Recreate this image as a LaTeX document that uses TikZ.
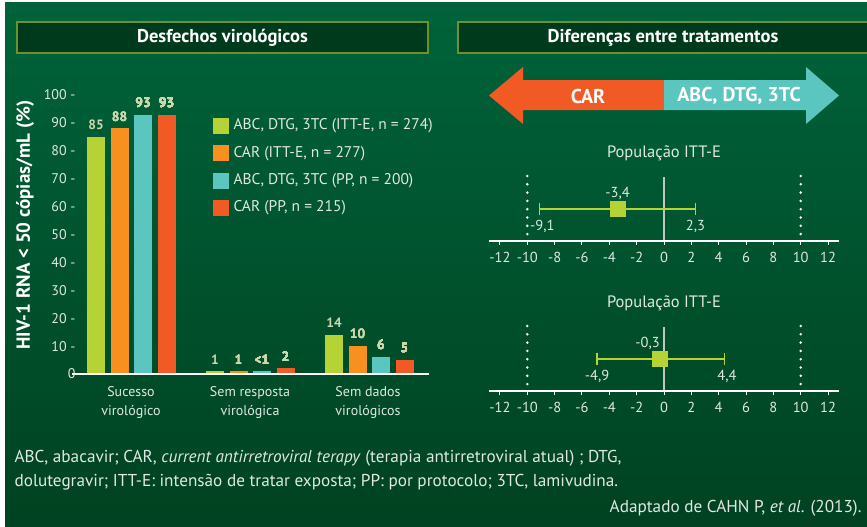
\documentclass[tikz,border=0pt]{standalone}
\usepackage{fontspec}
\setmainfont{PT Sans}
\definecolor{bgtop}{RGB}{0,99,58}
\definecolor{bgbot}{RGB}{0,66,33}
\definecolor{boxfill}{RGB}{0,58,28}
\definecolor{boxline}{RGB}{112,144,48}
\definecolor{limegreen}{RGB}{181,211,52}
\definecolor{carorange}{RGB}{247,144,30}
\definecolor{tealbar}{RGB}{91,197,191}
\definecolor{redbar}{RGB}{241,90,36}
\definecolor{paletext}{RGB}{205,216,172}
\definecolor{lighttext}{RGB}{225,232,225}
\definecolor{zerogray}{RGB}{190,200,190}
\usetikzlibrary{positioning}

% bar with its value on top
\newcommand{\drawbar}[5]{%
  \fill[#4] (#1,374) rectangle ++(18,{-2.79*#2});
  \node[vallabel] (#5) at ({#1+9},{374-2.79*#2-12}) {#3};
}

\begin{document}
\begin{tikzpicture}[x=1pt,y=-1pt,
  titlebox/.style={draw=boxline,line width=2pt,fill=boxfill,text=white,font=\fontsize{18.5}{22}\selectfont\bfseries,inner sep=0pt},
  vallabel/.style={text=paletext,font=\fontsize{13.5}{16}\selectfont\bfseries},
  ticklabel/.style={text=lighttext,font=\fontsize{14}{16}\selectfont,anchor=east},
  catlabel/.style={text=lighttext,font=\fontsize{14}{19}\selectfont,align=center},
  legtext/.style={text=lighttext,font=\fontsize{15.5}{18}\selectfont,anchor=west},
  plottitle/.style={text=lighttext,font=\fontsize{16.5}{19}\selectfont},
  cilabel/.style={text=lighttext,font=\fontsize{14.5}{17}\selectfont},
  ciline/.style={limegreen,line width=1.3pt},
  arrowtext/.style={text=white,font=\fontsize{20}{24}\selectfont\bfseries},
  foottext/.style={text=lighttext,font=\fontsize{17.2}{20}\selectfont,anchor=west}]
\useasboundingbox (0,0) rectangle (867,527);
\fill[white] (0,0) rectangle (867,527);
\shade[top color=bgtop,bottom color=bgbot] (5,3) rectangle (867,527);

% headers
\node[titlebox,minimum width=411pt,minimum height=31pt] (head1) at (222.5,38) {Desfechos virológicos};
\draw[boxline,line width=2pt,fill=boxfill] (458,22) rectangle (875,53);
\node[text=white,font=\fontsize{18.5}{22}\selectfont\bfseries] (head2) at (663,38) {Diferenças entre tratamentos};

% bar chart
\node[rotate=90,text=white,font=\fontsize{19}{22}\selectfont\bfseries] (ytitle) at (25,225) {HIV-1 RNA < 50 cópias/mL (\%)};
\foreach \v in {0,10,...,100}
  \node[ticklabel] (tick\v) at (79,{374-2.79*\v}) {\v\ifnum\v>0\ -\fi};
\foreach \gx/\val/\lab [count=\g] in {87/85/85,206/1/1,325/14/14}
  \drawbar{\gx}{\val}{\lab}{limegreen}{a\g}
\foreach \gx/\val/\lab [count=\g] in {110.5/88/88,229.5/1/1,348.5/10/10}
  \drawbar{\gx}{\val}{\lab}{carorange}{b\g}
\foreach \gx/\val/\lab [count=\g] in {134/93/93,253/1/<1,372/6/6}
  \drawbar{\gx}{\val}{\lab}{tealbar}{c\g}
\foreach \gx/\val/\lab [count=\g] in {157.5/93/93,276.5/2/2,395.5/5/5}
  \drawbar{\gx}{\val}{\lab}{redbar}{d\g}
\draw[white,line width=1.6pt] (72,374) -- (429,374);
\node[catlabel] (cat1) at (131,402) {Sucesso\\virológico};
\node[catlabel] (cat2) at (250,402) {Sem resposta\\virológica};
\node[catlabel] (cat3) at (368,402) {Sem dados\\virológicos};

% legend
\foreach \c/\t [count=\i] in {limegreen/{ABC, DTG, 3TC (ITT-E, n = 274)},carorange/{CAR (ITT-E, n = 277)},tealbar/{ABC, DTG, 3TC (PP, n = 200)},redbar/{CAR (PP, n = 215)}}{
  \fill[\c] (213,{126+27.3*(\i-1)-8}) rectangle ++(16,16);
  \node[legtext] (leg\i) at (230,{126+27.3*(\i-1)}) {\t};
}

% direction arrow
\fill[redbar] (664,80) -- (523,80) -- (523,67) -- (489,95.5) -- (523,124) -- (523,110) -- (664,110) -- cycle;
\fill[tealbar] (664,80) -- (806,80) -- (806,67) -- (839,95.5) -- (806,124) -- (806,110) -- (664,110) -- cycle;
\node[arrowtext] (carlab) at (588,96) {CAR};
\node[arrowtext] (abclab) at (739,96) {ABC, DTG, 3TC};

% forest plots
\foreach \dy/\est/\lo/\hi/\estpos/\lopos/\hipos/\estlab/\lolab/\hilab [count=\k] in
  {0/-3.4/-9.1/2.3/-3.4/-8.9/2.3/{-3,4}/{-9,1}/{2,3},
   150/-0.3/-4.9/4.4/-1.2/-4.9/4.6/{-0,3}/{-4,9}/{4,4}}{
\begin{scope}[shift={(664,\dy)},x=13.67pt]
  \node[plottitle] (ptitle\k) at (0,153) {População ITT-E};
  \draw[zerogray,line width=1.2pt] (0,177) -- (0,241);
  \foreach \yy in {176,184.3,...,238}{
    \fill[white] (-10,\yy) circle (1.4pt);
    \fill[white] (10,\yy) circle (1.4pt);
  }
  \draw[white,line width=1.5pt] (-12.8,241) -- (12.8,241);
  \foreach \t in {-12,-10,...,12}{
    \draw[white,line width=1pt] (\t,241) -- (\t,245);
    \node[cilabel] at (\t,257.5) {\t};
  }
  \draw[ciline] (\lo,209) -- (\hi,209);
  \draw[ciline] (\lo,203) -- (\lo,215);
  \draw[ciline] (\hi,203) -- (\hi,215);
  \fill[limegreen] (\est,209) ++(-8pt,-8pt) rectangle ++(16pt,16pt);
  \node[cilabel] (est\k) at (\estpos,193) {\estlab};
  \node[cilabel] (lo\k) at (\lopos,226.5) {\lolab};
  \node[cilabel] (hi\k) at (\hipos,226.5) {\hilab};
\end{scope}
}

% footnote
\node[foottext] (fn1) at (11,458) {ABC, abacavir; CAR, \textit{current antirretroviral terapy} (terapia antirretroviral atual) ; DTG,};
\node[foottext] (fn2) at (11,482) {dolutegravir; ITT-E: intensão de tratar exposta; PP: por protocolo; 3TC, lamivudina.};
\node[foottext,anchor=east] (src) at (865,508) {Adaptado de CAHN P, \textit{et al}. (2013).};
\end{tikzpicture}
\end{document}
